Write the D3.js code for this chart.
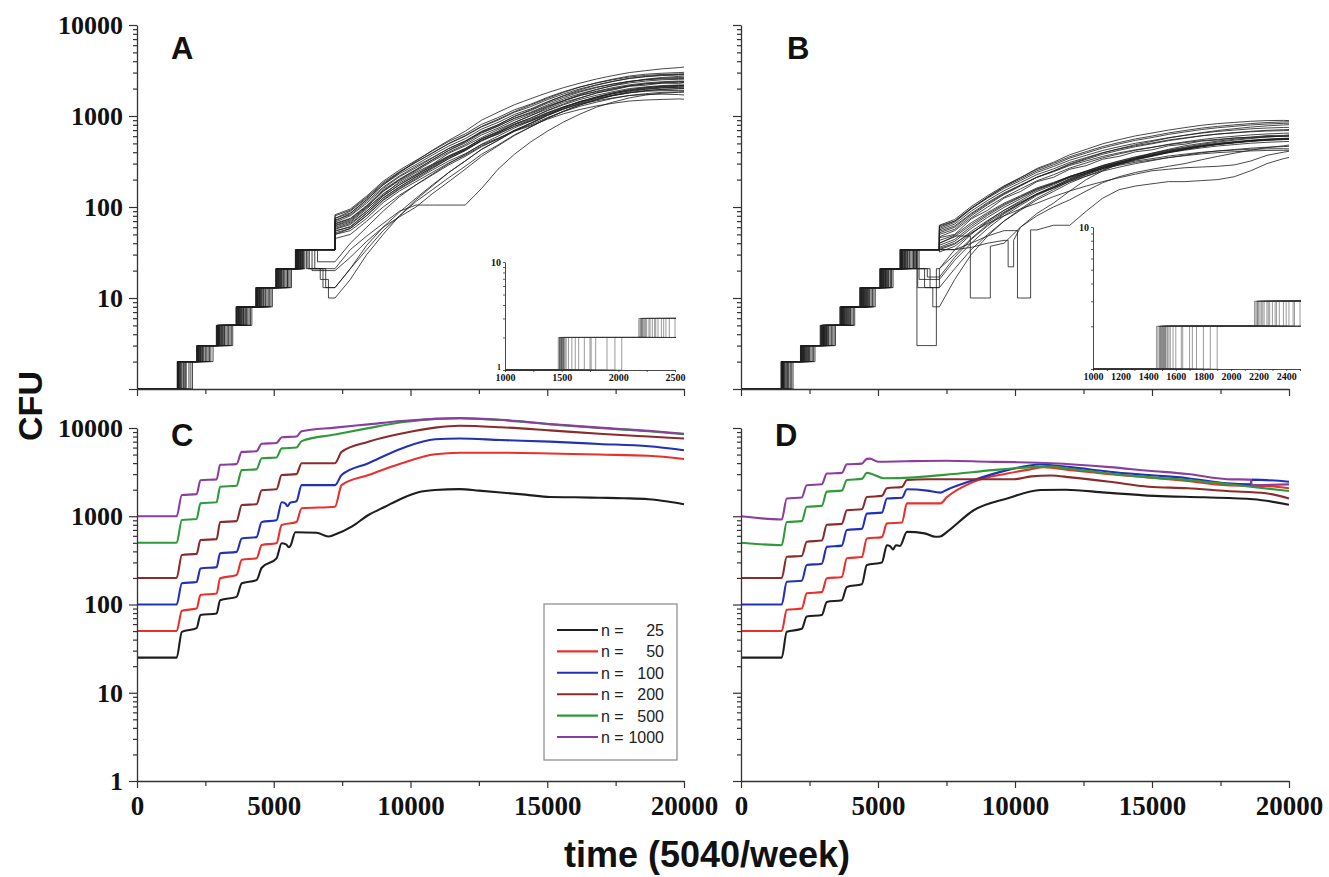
<!DOCTYPE html>
<html><head><meta charset="utf-8">
<script src="https://cdn.jsdelivr.net/npm/d3@7"></script>
<style>
body{margin:0;background:#fff;}
svg{display:block;}
</style></head><body>
<svg id="c" width="1329" height="877"></svg>
<script>
// ---------------- DATA ----------------
const decades = [1, 10, 100, 1000, 10000];
const minorMults = [2, 3, 4, 5, 6, 7, 8, 9];
const xTicks = [0, 2500, 5000, 7500, 10000, 12500, 15000, 17500, 20000];
const xLabelTicks = [0, 5000, 10000, 15000, 20000];
const insetATicks = [1000, 1500, 2000, 2500];
const insetBTicks = [1000, 1200, 1400, 1600, 1800, 2000, 2200, 2400];
const panelLetters = ["A", "B", "C", "D"];
const yTitle = "CFU";
const xTitle = "time (5040/week)";

// Fibonacci CFU levels of the single-cell staircase
const fibLevels = [1, 2, 3, 5, 8, 13, 21, 34];
const growthTimes = [7240, 7800, 8400, 9000, 9600, 10200, 10800, 11400, 12000, 12600, 13200, 13800, 14400, 15000, 15600, 16200, 16800, 17400, 18000, 18600, 19200, 19800, 20000];

// Panel A traces
const aJumps = [
 [1470,2190,2900,3630,4350,5070,5790],[1490,2200,2920,3650,4370,5090,5800],[1480,2210,2950,3660,4340,5110,5820],
 [1500,2230,2910,3700,4390,5080,5810],[1510,2180,2930,3620,4360,5130,5850],[1520,2250,2990,3680,4410,5100,5830],
 [1540,2220,2960,3720,4380,5160,5870],[1560,2270,3010,3640,4450,5120,5900],[1590,2300,3050,3760,4420,5190,5840],
 [1620,2350,2980,3800,4480,5150,5920],[1650,2330,3100,3740,4520,5220,5880],[1700,2400,3080,3850,4470,5260,5950],
 [1750,2380,3150,3780,4560,5200,5980],[1480,2450,3200,3900,4600,5300,6020],[1500,2200,3250,3820,4650,5340,5860],
 [1800,2500,3120,3950,4500,5400,6050],[1520,2600,3300,4000,4700,5250,5960],[1900,2550,3350,3880,4750,5450,6100],
 [1530,2280,3000,4100,4800,5500,5900],[2030,2700,3400,4150,4900,5600,6140],[1495,2240,3450,3700,4850,5350,5990],
 [1505,2320,2940,4200,4430,5550,6080],[1970,2650,3500,3980,4950,5650,5930],[1485,2780,3020,4050,4540,5180,6000],
 [1515,2210,3180,3730,4620,5280,5820],[1760,2420,2970,3910,4400,5500,6060]
];
const aExtras = [
 [],[],[],[],[],[],[],[],[],[],[],[],[],
 [[6300,21],[6900,13]],[[6500,21]],[[6200,21],[6700,16],[7000,10]],[[6600,25]],[[6400,20]],
 [],[],[],[],[[6250,21],[6800,13]],[],[],[]
];
const aGrowth = [
 [75,90,125,180,240,310,390,500,610,770,920,1120,1320,1560,1820,2080,2320,2540,2750,2880,2950,3000,3020],
 [68,80,110,160,215,270,345,440,530,680,800,990,1150,1380,1600,1840,2050,2240,2400,2520,2600,2650,2640],
 [62,70,98,135,190,240,295,390,470,580,710,850,1010,1190,1420,1580,1800,1930,2120,2180,2300,2280,2320],
 [55,60,85,125,165,215,270,340,420,530,640,770,900,1080,1260,1450,1600,1760,1890,1980,2050,2070,2080],
 [50,55,75,112,150,190,240,305,370,470,560,690,800,960,1120,1280,1420,1560,1680,1760,1820,1840,1850],
 [70,85,120,175,240,320,420,540,680,900,1100,1330,1550,1800,2050,2300,2550,2780,3000,3150,3300,3400,3450],
 [72,82,115,165,220,280,350,440,530,660,780,940,1080,1280,1480,1680,1850,2000,2150,2250,2300,2350,2330],
 [45,50,70,100,135,175,225,290,360,460,560,700,830,1010,1190,1370,1520,1680,1800,1900,1960,1990,2000],
 [65,74,102,150,200,255,330,420,520,670,800,990,1170,1420,1680,1940,2180,2400,2600,2720,2820,2860,2870],
 [58,66,90,133,175,222,282,355,425,540,630,770,880,1040,1200,1350,1470,1580,1680,1720,1740,1720,1700],
 [63,72,100,148,196,248,318,400,485,620,735,900,1050,1260,1470,1680,1870,2050,2200,2310,2380,2420,2410],
 [52,58,80,118,157,200,255,320,385,485,570,680,780,920,1060,1180,1290,1380,1460,1500,1520,1540,1530],
 [75,86,120,175,232,292,372,468,563,718,850,1040,1200,1430,1660,1880,2080,2250,2400,2500,2560,2580,2590],
 [13,21,34,55,80,115,155,210,280,380,480,620,760,940,1130,1330,1520,1690,1850,1960,2030,2070,2080],
 [21,34,48,66,90,105,105,105,105,160,260,380,520,680,860,1050,1250,1420,1580,1700,1780,1820,1830],
 [10,16,30,50,80,120,170,240,320,430,540,680,830,1010,1200,1390,1580,1750,1900,2010,2080,2120,2130],
 [25,40,60,90,130,175,230,300,380,490,600,740,880,1060,1250,1440,1620,1790,1930,2040,2110,2150,2160],
 [20,28,42,60,78,100,140,190,260,360,470,610,760,940,1130,1320,1500,1670,1800,1900,1960,2000,2000],
 [80,92,128,185,245,310,395,495,600,760,900,1100,1270,1510,1750,1990,2200,2400,2580,2700,2780,2820,2830],
 [57,64,90,132,176,224,286,362,438,562,666,818,950,1140,1330,1520,1690,1850,2000,2090,2160,2190,2190],
 [66,75,104,154,203,258,330,418,506,649,770,946,1100,1320,1540,1760,1960,2150,2310,2420,2500,2530,2540],
 [54,61,86,126,167,212,275,350,430,560,680,850,1010,1230,1470,1720,1950,2170,2380,2540,2650,2720,2740],
 [13,21,38,60,88,125,175,240,320,430,540,690,840,1030,1230,1430,1620,1800,1950,2060,2130,2170,2180],
 [60,68,95,140,183,230,292,366,440,560,660,800,920,1090,1260,1420,1560,1690,1800,1870,1900,1910,1910],
 [82,95,132,192,255,325,415,525,635,810,960,1170,1350,1600,1850,2090,2300,2500,2680,2790,2860,2900,2910],
 [50,58,81,120,160,205,265,340,415,540,650,810,950,1150,1360,1580,1780,1970,2140,2260,2340,2390,2400]
];

// Panel B traces
const bJumps = [
 [1460,2170,2890,3610,4330,5060,5800],[1480,2190,2910,3640,4350,5080,5830],[1500,2210,2940,3620,4380,5100,5850],
 [1520,2180,2960,3680,4400,5090,5820],[1490,2230,2920,3660,4360,5130,5870],[1540,2200,3000,3700,4420,5150,5900],
 [1560,2260,2980,3720,4450,5120,5840],[1580,2300,3050,3650,4470,5180,5950],[1510,2280,3100,3750,4500,5200,5880],
 [1600,2240,3030,3800,4440,5250,6000],[1650,2350,3150,3780,4550,5170,5920],[1700,2330,3080,3850,4600,5300,6050],
 [1750,2400,3200,3820,4520,5230,5980],[1530,2450,3250,3900,4650,5350,6100],[1470,2500,3020,3950,4700,5400,6150],
 [1800,2420,3300,3730,4480,5270,6200],[1550,2600,3350,4000,4750,5450,5860],[1850,2550,3180,4050,4580,5500,6250],
 [1495,2270,3400,3880,4800,5320,6300],[1900,2650,3120,4100,4850,5550,6400],[1505,2220,2950,3670,4390,5110,5810],
 [1515,2320,3060,3760,4620,5210,6020],[1640,2380,3450,3980,4900,5380,5960],[1485,2700,3010,4150,4680,5140,6080],
 [1525,2190,3130,3710,4410,5280,5900],[1720,2460,2990,3930,4530,5480,6350]
];
const bExtras = [
 [],[],[],[],[],[],[],[],[],[],[],[],[],
 [[6400,21],[6900,13]],[[6420,3],[7130,21]],[[6300,21],[6700,13],[7000,8]],[[6500,16]],[[6350,21],[6800,17]],
 [],[[6450,13]],[[8370,10],[9100,37]],[[10090,10],[10570,56]],[[9750,22],[9950,43]],[],[],[]
];
const bGrowth = [
 [60,70,97,128,165,203,250,290,345,392,445,493,540,580,628,668,709,743,770,797,817,830,834],
 [52,60,83,109,140,173,213,247,293,334,380,420,460,495,535,569,604,633,656,679,696,707,711],
 [46,50,74,92,125,148,190,212,260,285,335,360,405,425,470,490,530,545,575,585,610,612,620],
 [38,44,61,81,104,128,157,183,217,247,281,310,340,366,395,421,446,468,485,502,514,523,525],
 [34,39,54,71,92,113,139,161,191,218,248,274,300,323,349,371,394,413,428,443,454,461,464],
 [58,68,95,128,168,210,265,310,375,430,495,550,605,650,700,745,790,825,850,875,890,895,890],
 [54,62,85,112,143,174,212,244,286,321,360,394,426,452,484,510,535,555,570,585,595,600,600],
 [32,37,51,68,88,110,138,163,197,228,264,297,332,364,400,431,465,492,516,537,553,564,567],
 [50,57,80,106,137,170,212,249,298,342,393,438,484,525,572,614,656,693,724,755,780,797,803],
 [43,49,67,87,110,133,162,186,217,243,272,297,320,340,363,381,399,413,422,431,436,437,435],
 [47,55,76,100,128,158,194,226,268,305,347,383,420,452,488,520,551,578,599,620,635,646,649],
 [40,47,64,84,107,130,158,181,211,236,264,288,310,329,349,366,383,396,405,413,418,420,420],
 [56,65,90,118,151,185,227,262,309,349,395,434,472,505,544,575,607,633,652,671,684,690,692],
 [21,30,45,64,86,110,140,168,205,238,276,310,345,375,410,440,470,495,515,535,550,560,563],
 [21,34,50,70,92,117,148,175,212,245,284,318,352,382,417,448,478,503,523,543,558,568,570],
 [8,16,30,48,70,95,125,155,192,226,265,300,336,366,400,430,460,485,505,525,540,550,552],
 [16,26,40,58,80,104,134,162,198,232,270,305,340,370,405,436,466,491,511,531,546,556,558],
 [17,28,44,62,84,108,138,166,202,236,274,308,342,372,406,436,465,490,510,530,545,555,557],
 [62,70,96,125,160,195,240,278,327,370,418,460,502,537,578,613,648,677,700,722,738,748,751],
 [13,21,34,50,70,92,120,148,184,218,256,292,328,360,396,428,460,487,510,532,548,560,562],
 [40,48,10,10,40,60,85,110,150,200,250,300,345,390,430,470,500,530,555,575,590,600,605],
 [34,34,40,48,55,10,56,63,63,90,125,155,170,180,190,190,195,200,215,250,300,340,350],
 [34,34,36,40,43,60,80,100,120,150,185,215,240,260,280,300,330,360,390,420,450,470,480],
 [35,40,52,66,80,95,110,130,150,170,190,210,230,250,260,270,275,280,290,320,370,400,410],
 [63,73,101,133,171,210,259,301,357,406,462,511,560,602,651,693,735,770,798,826,847,861,865],
 [36,42,58,77,99,123,153,180,216,249,287,321,357,389,423,455,488,517,542,566,587,601,605]
];

// Panels C and D: mean CFU for different inoculum sizes n
const seriesN = [25, 50, 100, 200, 500, 1000];
const legendLabels = ["25", "50", "100", "200", "500", "1000"];
const seriesColors = ["#1e1e1e", "#e8302c", "#2331b5", "#8b2b2b", "#2f9a3a", "#8c3e9e"];
const cSeries = [
 [[0,25],[1450,25],[1640,49],[2180,54],[2320,76],[2910,79],[3040,112],[3640,122],[3830,174],[4370,189],[4560,261],[5100,334],[5290,494],[5450,480],[5560,445],[5620,470],[5790,660],[6570,650],[6995,590],[7240,620],[7850,762],[8460,1033],[9070,1282],[9680,1590],[10290,1870],[10900,1982],[11800,2030],[12500,1950],[13300,1860],[14200,1760],[15100,1650],[16000,1640],[16900,1620],[17800,1600],[18700,1560],[19400,1470],[20000,1370]],
 [[0,50],[1450,50],[1640,85],[2180,90],[2320,128],[2910,133],[3040,198],[3640,216],[3830,321],[4370,334],[4560,472],[5100,494],[5290,794],[5830,860],[6020,1230],[7240,1282],[7480,2250],[8460,2930],[9680,3990],[10900,5040],[11800,5250],[13300,5250],[15100,5150],[16900,5000],[18700,4850],[20000,4450]],
 [[0,100],[1450,100],[1640,174],[2180,180],[2320,256],[2910,265],[3040,380],[3640,395],[3830,560],[4370,580],[4560,860],[5100,900],[5290,1440],[5420,1400],[5500,1300],[5600,1420],[5830,1480],[6020,2250],[7240,2250],[7480,2930],[8460,3990],[9680,5870],[10900,7470],[11800,7600],[13300,7300],[15100,7000],[16900,6600],[18700,6200],[20000,5600]],
 [[0,200],[1450,200],[1640,364],[2180,375],[2320,537],[2910,550],[3040,860],[3640,880],[3830,1340],[4370,1370],[4560,1970],[5100,2020],[5290,2930],[5830,3000],[6020,3990],[7240,3990],[7480,5360],[8460,6980],[9680,8660],[10900,10100],[11800,10600],[13300,10200],[15100,9400],[16900,8600],[18700,8000],[20000,7600]],
 [[0,500],[1450,500],[1640,906],[2180,930],[2320,1400],[2910,1440],[3040,2160],[3640,2220],[3830,3330],[4370,3400],[4560,4540],[5100,4640],[5290,5870],[5830,6000],[6020,7100],[7240,8440],[8460,9960],[9680,11600],[10900,12700],[11800,12900],[13300,12300],[15100,11000],[16900,10000],[18700,9200],[20000,8500]],
 [[0,1000],[1450,1000],[1640,1740],[2180,1780],[2320,2560],[2910,2620],[3040,3830],[3640,3900],[3830,5360],[4370,5450],[4560,6630],[5100,6750],[5290,7870],[5830,8000],[6020,9200],[7240,10100],[8460,11000],[9680,12000],[10900,12700],[11800,12950],[13300,12400],[15100,11100],[16900,10100],[18700,9300],[20000,8600]]
];
const dSeries = [
 [[0,25],[1487,25],[1670,49],[2218,53],[2400,73],[2950,76],[3132,107],[3680,112],[3863,158],[4411,170],[4594,280],[5143,300],[5326,470],[5450,455],[5550,420],[5650,470],[5800,460],[6057,665],[6700,640],[7100,585],[7275,590],[7519,665],[8494,1170],[9712,1590],[10931,1980],[11850,2000],[13300,1850],[15100,1700],[16900,1640],[18700,1560],[20000,1350]],
 [[0,50],[1487,50],[1670,87],[2218,90],[2400,134],[2950,138],[3132,198],[3680,205],[3863,334],[4411,345],[4594,560],[5143,580],[5326,830],[5874,850],[6057,1400],[7275,1400],[7519,1650],[8494,2460],[9712,3050],[10560,3400],[11050,3600],[12030,3330],[13450,3000],[14880,2760],[16300,2510],[17730,2250],[19160,2200],[20000,2080]],
 [[0,100],[1487,100],[1670,181],[2218,186],[2400,280],[2950,290],[3132,450],[3680,465],[3863,700],[4411,720],[4594,1070],[5143,1100],[5326,1590],[5874,1620],[6057,2020],[6800,1950],[7275,1850],[7519,2000],[8494,2570],[9712,3330],[10900,3860],[12030,3600],[13450,3200],[14880,2930],[16300,2700],[17730,2360],[18580,2300],[18650,2600],[20000,2460]],
 [[0,200],[1487,200],[1670,347],[2218,355],[2400,515],[2950,530],[3132,800],[3680,820],[3863,1170],[4411,1200],[4594,1650],[5143,1700],[5326,2080],[5874,2150],[6057,2570],[6830,2630],[9960,2630],[10590,2830],[11300,2900],[12030,2760],[13450,2460],[14880,2160],[16300,2080],[17730,1930],[19160,1820],[20000,1590]],
 [[0,500],[1487,470],[1670,860],[2218,880],[2400,1280],[2950,1310],[3132,1900],[3680,1950],[3863,2570],[4411,2650],[4594,3100],[4800,3000],[5200,2700],[6350,2760],[7770,3010],[9190,3330],[10610,3600],[11300,3650],[12030,3450],[13450,3050],[14880,2760],[16300,2580],[17730,2320],[20000,1930]],
 [[0,1000],[1487,920],[1670,1590],[2218,1630],[2400,2250],[2950,2300],[3132,3050],[3680,3100],[3863,3880],[4411,3950],[4594,4470],[4700,4500],[5000,4150],[6000,4200],[7500,4250],[9000,4150],[10000,4100],[11330,3990],[13460,3600],[14880,3280],[16300,3010],[17740,2630],[18600,2600],[18650,2250],[20000,2300]]
];

// ---------------- DRAWING ----------------
const svg = d3.select("#c");
const AX = "#333";
const serif = "'Liberation Serif','Times New Roman',serif";
const sans = "'Liberation Sans',Arial,sans-serif";

const xLeft = d3.scaleLinear().domain([0, 20000]).range([137, 684]);
const xRight = d3.scaleLinear().domain([0, 20000]).range([741, 1289]);
const yTop = d3.scaleLog().domain([1, 10000]).range([389, 25]);
const yBot = d3.scaleLog().domain([1, 10000]).range([781, 428]);

const logVals = [];
decades.forEach(d => { logVals.push(d); if (d < 10000) minorMults.forEach(m => logVals.push(d * m)); });

// jumps and extra events are instantaneous (step); the growth samples are joined directly
function tracePoints(jumps, extras, growth) {
  const ev = [];
  jumps.forEach((t, i) => ev.push({ t: t, v: fibLevels[i + 1], step: true }));
  extras.forEach(p => ev.push({ t: p[0], v: p[1], step: true }));
  growth.forEach((v, i) => { if (i < growthTimes.length) ev.push({ t: growthTimes[i], v: v, step: i === 0 }); });
  ev.sort((a, b) => a.t - b.t);
  const pts = [[0, 1]];
  let prev = 1;
  ev.forEach(e => {
    if (e.step) pts.push([e.t, prev]);
    pts.push([e.t, e.v]);
    prev = e.v;
  });
  return pts;
}

function drawTraces(x, y, jumps, extras, growth, clipId, sw, col, op) {
  const line = d3.line().x(d => x(d[0])).y(d => y(d[1]));
  const g = svg.append("g");
  if (clipId) g.attr("clip-path", `url(#${clipId})`);
  jumps.forEach((j, i) => {
    g.append("path").attr("d", line(tracePoints(j, extras[i], growth[i])))
      .attr("fill", "none").attr("stroke", col).attr("stroke-width", sw)
      .attr("stroke-opacity", op).attr("stroke-linejoin", "miter");
  });
}

function drawSeries(x, y, series) {
  const line = d3.line().x(d => x(d[0])).y(d => y(d[1])).curve(d3.curveMonotoneX);
  series.forEach((s, i) => {
    svg.append("path").attr("d", line(s)).attr("fill", "none")
      .attr("stroke", seriesColors[i]).attr("stroke-width", 2.1);
  });
}

function styleAxis(g, fs, fam) {
  g.selectAll(".domain").attr("stroke", AX).attr("stroke-width", 1.3);
  g.selectAll(".tick line").attr("stroke", AX).attr("stroke-width", 1.2);
  g.selectAll("text").attr("fill", "#111").attr("font-family", fam).attr("font-weight", "bold").attr("font-size", fs);
}

function yAxis(y, x0, labels, showOne) {
  const ax = d3.axisLeft(y).tickValues(logVals).tickSize(4).tickSizeOuter(0).tickPadding(10)
    .tickFormat(d => labels && decades.includes(d) && (d !== 1 || showOne) ? String(d) : "");
  const g = svg.append("g").attr("transform", `translate(${x0},0)`).call(ax);
  g.selectAll(".tick line").filter(d => decades.includes(d)).attr("x2", -8);
  styleAxis(g, 26, serif);
  return g;
}

function xAxis(x, y0, labels) {
  const ax = d3.axisBottom(x).tickValues(xTicks).tickSize(5).tickSizeOuter(0).tickPadding(10)
    .tickFormat(d => labels && xLabelTicks.includes(d) ? String(d) : "");
  const g = svg.append("g").attr("transform", `translate(0,${y0})`).call(ax);
  g.selectAll(".tick line").filter(d => xLabelTicks.includes(d)).attr("y2", 7);
  styleAxis(g, 27, serif);
  return g;
}

// ---- Panel A / B traces
drawTraces(xLeft, yTop, aJumps, aExtras, aGrowth, null, 0.9, "#1e1e1e", 0.9);
drawTraces(xRight, yTop, bJumps, bExtras, bGrowth, null, 0.9, "#1e1e1e", 0.9);

// ---- Panels C / D
drawSeries(xLeft, yBot, cSeries);
drawSeries(xRight, yBot, dSeries);

// ---- Axes
yAxis(yTop, 137, true, false);
yAxis(yTop, 741, false, false);
yAxis(yBot, 137, true, true);
yAxis(yBot, 741, false, false);
xAxis(xLeft, 389, false);
xAxis(xRight, 389, false);
xAxis(xLeft, 781, true);
xAxis(xRight, 781, true);

// ---- Insets
function inset(id, x0, x1, yb, yt, ticks, jumps, extras, growth, minorStep, showOne) {
  const xi = d3.scaleLinear().domain([1000, 2500]).range([x0, x1]);
  const yi = d3.scaleLog().domain([1, 10]).range([yb, yt]);
  svg.append("clipPath").attr("id", id).append("rect")
    .attr("x", x0).attr("y", yt - 1).attr("width", x1 - x0 + 1).attr("height", yb - yt + 2);
  drawTraces(xi, yi, jumps, extras, growth, id, 0.6, "#3a3a3a", 0.85);
  const minor = d3.range(1000, 2501, minorStep);
  const gx = svg.append("g").attr("transform", `translate(0,${yb})`)
    .call(d3.axisBottom(xi).tickValues(minor).tickSize(2).tickSizeOuter(0).tickPadding(2)
      .tickFormat(d => ticks.includes(d) ? String(d) : ""));
  styleAxis(gx, 10, serif);
  gx.selectAll(".domain").attr("stroke-width", 0.9);
  gx.selectAll(".tick line").attr("stroke-width", 0.8);
  const yv = [1, 2, 3, 4, 5, 6, 7, 8, 9, 10];
  const gy = svg.append("g").attr("transform", `translate(${x0},0)`)
    .call(d3.axisLeft(yi).tickValues(yv).tickSize(2).tickSizeOuter(0).tickPadding(2)
      .tickFormat(d => (d === 10 || (d === 1 && showOne)) ? String(d) : ""));
  styleAxis(gy, 10, serif);
  gy.selectAll(".domain").attr("stroke-width", 0.9);
  gy.selectAll(".tick line").attr("stroke-width", 0.8);
  gy.selectAll(".tick text").filter(d => d === 1).attr("font-size", 8).attr("dy", "-0.1em");
}
inset("clipA", 505, 675, 370, 262, insetATicks, aJumps, aExtras, aGrowth, 250, true);
inset("clipB", 1093, 1300, 369, 227, insetBTicks, bJumps, bExtras, bGrowth, 100, false);

// ---- Legend (panel C)
const lg = svg.append("g");
lg.append("rect").attr("x", 544).attr("y", 604).attr("width", 133).attr("height", 156)
  .attr("fill", "#fff").attr("stroke", "#888").attr("stroke-width", 1.2);
const rowY = d3.scaleLinear().domain([0, 5]).range([630, 737]);
legendLabels.forEach((lab, i) => {
  const yy = rowY(i);
  lg.append("line").attr("x1", 557).attr("x2", 598).attr("y1", yy).attr("y2", yy)
    .attr("stroke", seriesColors[i]).attr("stroke-width", 2.1);
  lg.append("text").attr("x", 601).attr("y", yy + 6).text("n =")
    .attr("font-family", sans).attr("font-size", 16).attr("fill", "#222");
  lg.append("text").attr("x", 664).attr("y", yy + 6).attr("text-anchor", "end").text(lab)
    .attr("font-family", sans).attr("font-size", 16).attr("fill", "#222");
});

// ---- Panel letters
const letterPos = [[171, 59], [787, 59], [171, 446], [775, 446]];
panelLetters.forEach((L, i) => {
  svg.append("text").attr("x", letterPos[i][0]).attr("y", letterPos[i][1]).text(L)
    .attr("font-family", sans).attr("font-weight", "bold").attr("font-size", 31).attr("fill", "#111");
});

// ---- Titles
svg.append("text").attr("transform", "translate(42,406) rotate(-90)").attr("text-anchor", "middle")
  .text(yTitle).attr("font-family", sans).attr("font-weight", "bold").attr("font-size", 34).attr("fill", "#111");
svg.append("text").attr("x", 707).attr("y", 867).attr("text-anchor", "middle")
  .text(xTitle).attr("font-family", sans).attr("font-weight", "bold").attr("font-size", 36).attr("fill", "#111");
</script>
</body></html>
